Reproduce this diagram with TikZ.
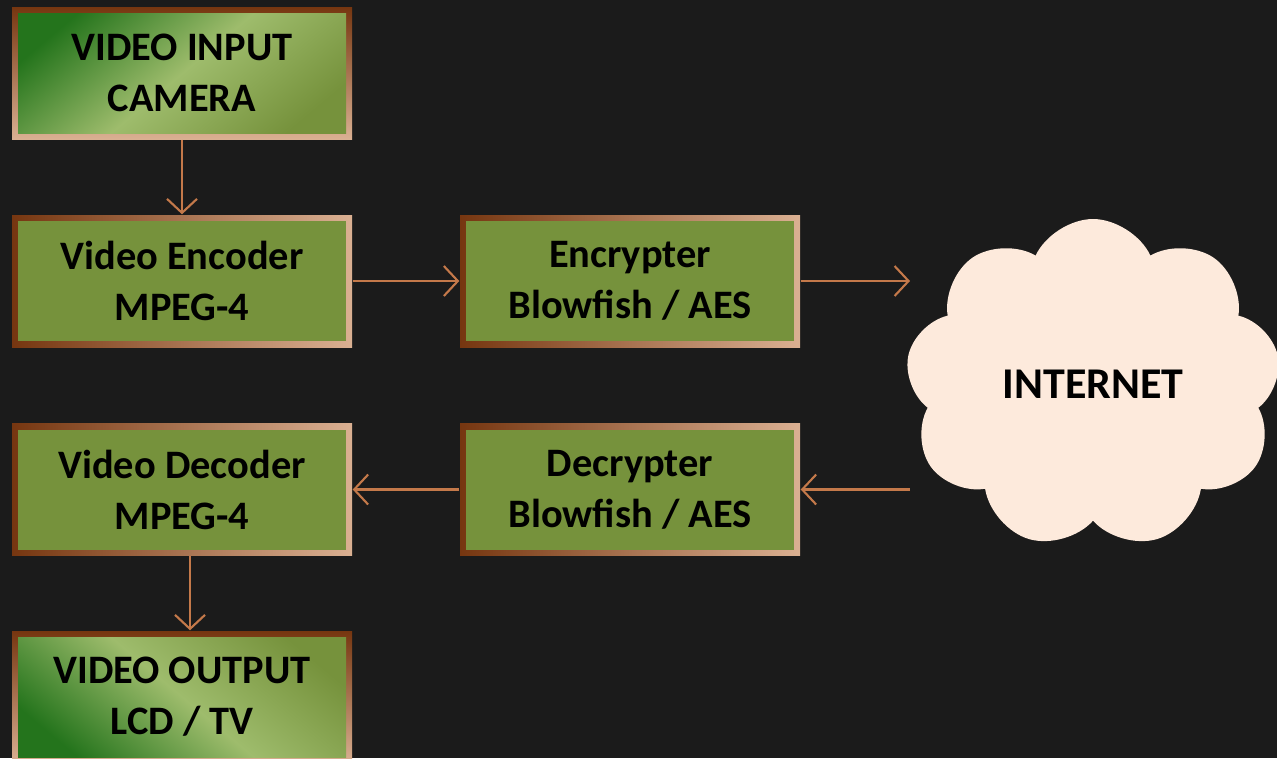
\documentclass[tikz,border=0pt]{standalone}
\usepackage{fontspec}
\setmainfont{Carlito}
\usetikzlibrary{arrows.meta,shapes.symbols}

\definecolor{bgdark}{RGB}{27,27,27}
\definecolor{boxgreen}{RGB}{118,146,60}
\definecolor{deepgreen}{RGB}{36,116,28}
\definecolor{palegreen}{RGB}{158,188,108}
\definecolor{edgedark}{RGB}{118,54,16}
\definecolor{edgelight}{RGB}{218,176,146}
\definecolor{arrowc}{RGB}{196,121,74}
\definecolor{cloudfill}{RGB}{253,234,220}

\tikzset{
  block/.style={minimum width=3.40cm, minimum height=1.32cm, inner sep=0pt,
    align=center, font=\fontsize{11.5}{14.5}\selectfont\bfseries,
    left color=edgedark, right color=edgelight,
    path picture={\fill[boxgreen]
      ([shift={(0.06,0.06)}]path picture bounding box.south west) rectangle
      ([shift={(-0.06,-0.06)}]path picture bounding box.north east);}},
  endblock/.style={block, top color=edgedark, bottom color=edgelight,
    path picture={\shade[left color=deepgreen, right color=boxgreen,
        middle color=palegreen, shading angle=#1]
      ([shift={(0.06,0.06)}]path picture bounding box.south west) rectangle
      ([shift={(-0.06,-0.06)}]path picture bounding box.north east);}},
  flow/.style={draw=arrowc, line width=0.6pt,
    -{Straight Barb[length=1.4mm,width=3mm]}},
  netcloud/.style={cloud, cloud puffs=9, cloud puff arc=130, aspect=1.1,
    fill=cloudfill, minimum width=3.75cm, minimum height=3.3cm,
    font=\fontsize{12.5}{15}\selectfont\bfseries}
}

\begin{document}
\begin{tikzpicture}
\fill[bgdark] (0,0) rectangle (12.77,7.58);
\clip (0,0) rectangle (12.77,7.58);
\coordinate (netin) at (9.10,4.77);
\coordinate (netout) at (9.10,2.685);
\node[endblock=40] (vin) at (1.82,6.85) {VIDEO INPUT\\CAMERA};
\node[block] (venc) at (1.82,4.77) {Video Encoder\\MPEG-4};
\node[block] (encr) at (6.30,4.77) {Encrypter\\Blowfish / AES};
\node[block] (vdec) at (1.82,2.685) {Video Decoder\\MPEG-4};
\node[block] (decr) at (6.30,2.685) {Decrypter\\Blowfish / AES};
\node[endblock=140] (vout) at (1.82,0.61) {VIDEO OUTPUT\\LCD / TV};
\node[netcloud] (net) at (10.93,3.74) {INTERNET};
\draw[flow] (vin) -- (venc);
\draw[flow] (venc) -- (encr);
\draw[flow] (encr) -- (netin);
\draw[flow] (netout) -- (decr);
\draw[flow] (decr) -- (vdec);
\draw[flow] ([xshift=0.8mm]vdec.south) -- ([xshift=0.8mm]vout.north);
\end{tikzpicture}
\end{document}
